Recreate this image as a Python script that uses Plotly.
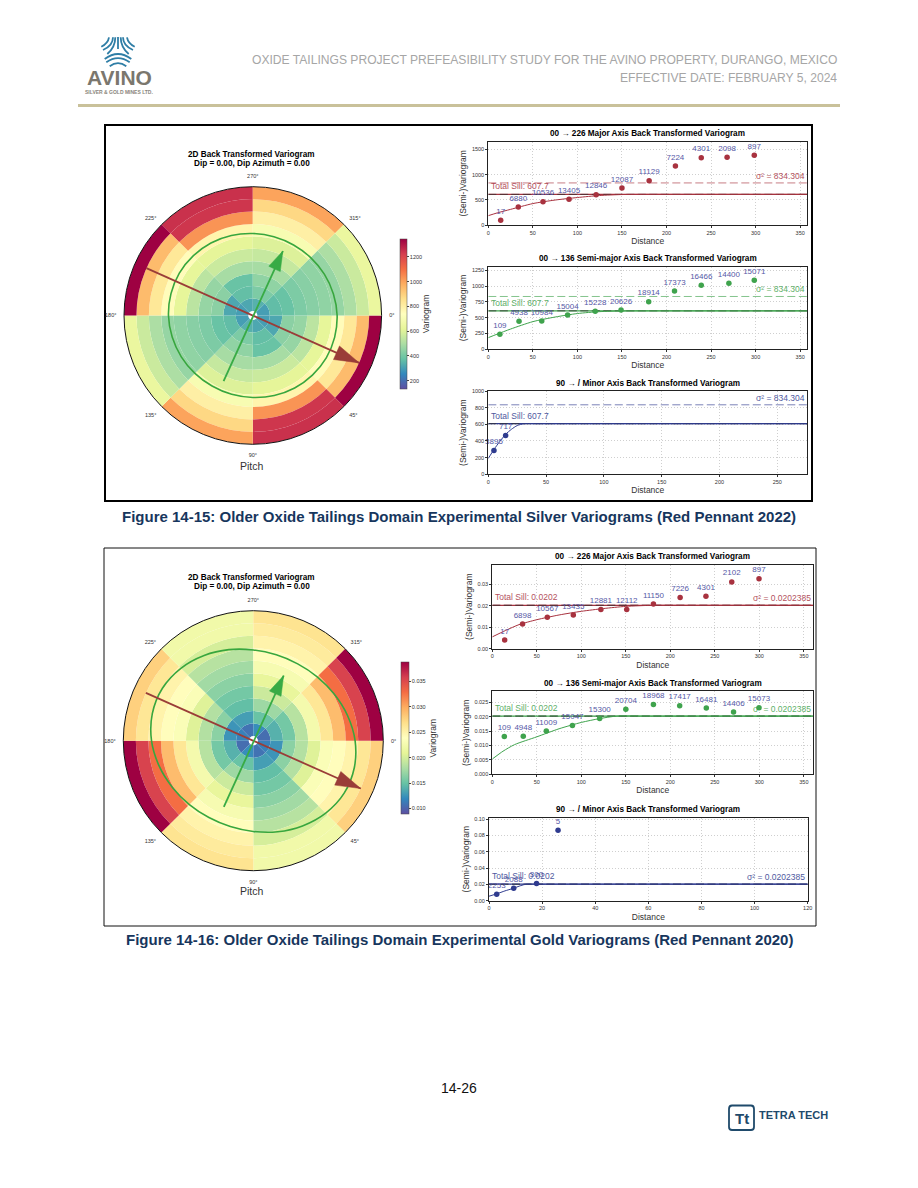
import plotly.graph_objects as go

W, H = 918, 1188
FONT = "Liberation Sans"

# ---------- polar data: radial variogram per 45-degree sector, inner ring -> outer ring ----------
SECTOR_CENTRES = [22.5, 67.5, 112.5, 157.5]
ANGLE_TICKS = [0, 45, 90, 135, 180, 225, 270, 315]

AG_S0 = [300, 320, 440, 460, 530, 625, 750, 830, 950, 1345]
AG_S1 = [320, 370, 380, 490, 560, 620, 780, 1030, 1240, 1250]
AG_S2 = [340, 415, 450, 490, 550, 600, 700, 800, 880, 1000]
AG_S3 = [300, 365, 380, 415, 435, 450, 460, 500, 560, 640]

AU_S0 = [0.0115, 0.0125, 0.0165, 0.0183, 0.0205, 0.0232, 0.0240, 0.0250, 0.0262, 0.0278]
AU_S1 = [0.0108, 0.0130, 0.0147, 0.0155, 0.0165, 0.0175, 0.0185, 0.0200, 0.0222, 0.0222]
AU_S2 = [0.0122, 0.0150, 0.0173, 0.0195, 0.0212, 0.0228, 0.0240, 0.0250, 0.0258, 0.0265]
AU_S3 = [0.0105, 0.0140, 0.0155, 0.0185, 0.0225, 0.0262, 0.0290, 0.0328, 0.0355, 0.0388]

ELL_THETA = [0, 15, 30, 45, 60, 75, 90, 105, 120, 135, 150, 165]
AG_ELL_R = [6.79, 6.82, 6.83, 6.79, 6.74, 6.67, 6.60, 6.57, 6.56, 6.59, 6.65, 6.72]
AU_ELL_R = [8.12, 8.34, 8.37, 8.17, 7.85, 7.52, 7.24, 7.09, 7.08, 7.21, 7.45, 7.78]

RED_LINE_R, RED_LINE_T = [9.38, 9.38], [204, 24]
RED_HEAD_R, RED_HEAD_T = [9.38, 7.40, 7.40, 9.38], [24, 28.6, 19.4, 24]
GRN_LINE_R, GRN_LINE_T = [5.78, 5.73], [114, 295]
GRN_HEAD_R, GRN_HEAD_T = [5.73, 4.17, 4.17, 5.73], [295, 302, 288, 295]

# ---------- variogram data ----------
AG1_D = [13.9, 33.7, 61.4, 90.6, 121, 150, 180.5, 210, 239, 268, 298.5]
AG1_V = [92, 357, 463, 509, 601, 734, 879, 1170, 1335, 1342, 1381]
AG1_N = ["17", "6880", "10536", "13405", "12846", "12087", "11129", "7224", "4301", "2098", "897"]
AG1_MD = [0, 10, 25, 50, 75, 100, 125, 150, 170, 200, 358]
AG1_MV = [185, 240, 310, 425, 495, 545, 585, 604, 607.7, 607.7, 607.7]

AG2_D = [13, 34.5, 60, 89, 120, 149, 180, 209, 239, 270, 298.5]
AG2_V = [237, 442, 447, 542, 600, 621, 753, 921, 1010, 1042, 1089]
AG2_N = ["109", "4938", "10984", "15004", "15228", "20626", "18914", "17373", "16466", "14400", "15071"]
AG2_MD = [0, 10, 25, 50, 75, 100, 125, 150, 170, 200, 358]
AG2_MV = [184, 240, 320, 437, 510, 565, 595, 606, 607.7, 607.7, 607.7]

AG3_D = [4.9, 15]
AG3_V = [287, 466]
AG3_N = ["3895", "717"]
AG3_MD = [0, 5, 10, 15, 20, 25, 31, 40, 276]
AG3_MV = [190, 300, 395, 480, 540, 585, 607.7, 607.7, 607.7]

AU1_D = [13.9, 34, 61.8, 91, 122, 151, 181, 211, 240, 269, 299.6]
AU1_V = [0.00404, 0.0115, 0.0146, 0.0157, 0.0183, 0.0183, 0.0208, 0.0238, 0.0244, 0.0311, 0.0326]
AU1_N = ["17", "6898", "10567", "13435", "12881", "12112", "11150", "7226", "4301", "2102", "897"]
AU1_MD = [0, 15, 30, 50, 75, 100, 125, 150, 180, 210, 360]
AU1_MV = [0.0055, 0.0085, 0.0112, 0.0135, 0.0157, 0.0174, 0.0187, 0.0197, 0.0202, 0.0202, 0.0202]

AU2_D = [13.5, 34.8, 60.7, 90, 120.6, 150, 181, 210.5, 240.4, 271, 299.6]
AU2_V = [0.0131, 0.0132, 0.0150, 0.0169, 0.0194, 0.0226, 0.0242, 0.0238, 0.0230, 0.0216, 0.0231]
AU2_N = ["109", "4948", "11009", "15047", "15300", "20704", "18968", "17417", "16481", "14406", "15073"]
AU2_MD = [0, 12, 25, 50, 75, 100, 120, 140, 170, 360]
AU2_MV = [0.0053, 0.0080, 0.0103, 0.0130, 0.0158, 0.0180, 0.0193, 0.0202, 0.0202, 0.0202]

AU3_D = [2.9, 9.3, 17.9, 26]
AU3_V = [0.00776, 0.0151, 0.0212, 0.0861]
AU3_N = ["2253", "2088", "300", "5"]
AU3_MD = [0, 3, 6, 9, 12, 14, 18, 120]
AU3_MV = [0.0055, 0.0085, 0.0120, 0.0150, 0.0185, 0.0202, 0.0202, 0.0202]

AG_SILL, AG_VAR = 607.7, 834.304
AU_SILL, AU_VAR = 0.0202, 0.0202385

RED, GREEN, BLUE = "#a8323f", "#3fa34d", "#2f3b8f"
LABEL = "#5558a6"
NAVY = "#17365d"


def xp(x):
    return x / W


def yp(y):
    return 1 - y / H


fig = go.Figure()
annotations, shapes = [], []


def text(x, y, s, size, color="#000000", bold=False, anchor="center", family=FONT, angle=0):
    annotations.append(dict(
        x=xp(x), y=yp(y), xref="paper", yref="paper", showarrow=False,
        text=f"<b>{s}</b>" if bold else s, xanchor=anchor, yanchor="middle",
        font=dict(size=size, color=color, family=family), textangle=angle,
        borderpad=0, borderwidth=0))


def path_px(points, color, width, fill=None):
    shapes.append(dict(
        type="path", xref="paper", yref="paper", path=points,
        line=dict(color=color, width=width), fillcolor=fill, layer="above"))


def quad(x0, y0, x1, y1, x2, y2):
    return f"M {xp(x0)} {yp(y0)} Q {xp(x1)} {yp(y1)} {xp(x2)} {yp(y2)}"


def rect(x0, y0, x1, y1, color, width, fill=None):
    shapes.append(dict(
        type="rect", xref="paper", yref="paper", x0=xp(x0), x1=xp(x1), y0=yp(y1), y1=yp(y0),
        line=dict(color=color, width=width), fillcolor=fill, layer="below"))


def polar_panel(idx, cx, cy, R, sectors, cmin, cmax, cb, ell_r, ring_width=1.0, ring_base=0.37):
    name = "polar" if idx == 1 else f"polar{idx}"
    rs, bases, thetas, vals = [], [], [], []
    for offset in (0, 180):
        for centre, series in zip(SECTOR_CENTRES, sectors):
            for i, v in enumerate(series):
                rs.append(ring_width)
                bases.append(ring_base + i * ring_width)
                thetas.append(centre + offset)
                vals.append(v)
    fig.add_trace(go.Barpolar(
        r=rs, base=bases, theta=thetas, width=[45] * len(rs), subplot=name, showlegend=False,
        marker=dict(color=vals, colorscale="Spectral_r", cmin=cmin, cmax=cmax, line=dict(width=0),
                    colorbar=cb)))
    fig.add_trace(go.Scatterpolar(
        r=ell_r + ell_r + ell_r[:1],
        theta=ELL_THETA + [t + 180 for t in ELL_THETA] + [360],
        mode="lines", subplot=name, showlegend=False,
        line=dict(color="#38a63e", width=1.6, shape="spline")))
    for lr, lt, hr, ht, col in ((RED_LINE_R, RED_LINE_T, RED_HEAD_R, RED_HEAD_T, "#9a3d38"),
                                (GRN_LINE_R, GRN_LINE_T, GRN_HEAD_R, GRN_HEAD_T, "#38ab45")):
        fig.add_trace(go.Scatterpolar(r=lr, theta=lt, mode="lines", subplot=name, showlegend=False,
                                      line=dict(color=col, width=1.8)))
        fig.add_trace(go.Scatterpolar(r=hr, theta=ht, mode="lines", fill="toself", fillcolor=col,
                                      subplot=name, showlegend=False, line=dict(color=col, width=0.5)))
    fig.update_layout({name: dict(
        domain=dict(x=[xp(cx - R), xp(cx + R)], y=[yp(cy + R), yp(cy - R)]),
        bgcolor="#ffffff",
        radialaxis=dict(visible=False, range=[0, ring_base + 10 * ring_width]),
        angularaxis=dict(direction="clockwise", rotation=0, tickmode="array",
                         tickvals=ANGLE_TICKS, ticktext=[f"{a}°" for a in ANGLE_TICKS],
                         tickfont=dict(size=5.5, color="#333333", family=FONT),
                         ticks="outside", ticklen=6, tickcolor="rgba(0,0,0,0)",
                         showgrid=False, showline=True, linecolor="#111111", linewidth=1))})


def colorbar(x, ytop, ybot, ticks, fmt, thick):
    return dict(
        x=xp(x), xanchor="left", xpad=0, ypad=0, y=yp((ytop + ybot) / 2), yanchor="middle",
        len=ybot - ytop, lenmode="pixels", thickness=thick, thicknessmode="pixels",
        outlinewidth=0.5, outlinecolor="#444444", tickvals=ticks, tickformat=fmt,
        ticks="outside", ticklen=2, tickwidth=0.5,
        tickfont=dict(size=5.5, color="#333333", family=FONT),
        title=dict(text="Variogram", side="right", font=dict(size=8.5, color="#333333", family=FONT)))


def vario_panel(idx, x0, x1, ytop, ybot, xmax, ymax, yticks, xticks, yfmt, d, v, n, md, mv,
                sill, var, color, var_label, sill_label, title, marker_size=5.5):
    xa, ya = f"x{idx}", f"y{idx}"
    fig.add_trace(go.Scatter(x=[0, xmax], y=[var, var], xaxis=xa, yaxis=ya, mode="lines", showlegend=False,
                             opacity=0.7, line=dict(color=color, width=0.9, dash="8px,3.5px")))
    fig.add_trace(go.Scatter(x=[0, xmax], y=[sill, sill], xaxis=xa, yaxis=ya, mode="lines", showlegend=False,
                             line=dict(color=color, width=1.2)))
    fig.add_trace(go.Scatter(x=[0, xmax], y=[sill, sill], xaxis=xa, yaxis=ya, mode="lines", showlegend=False,
                             line=dict(color="#333333", width=0.8, dash="8px,3.5px")))
    fig.add_trace(go.Scatter(x=md, y=mv, xaxis=xa, yaxis=ya, mode="lines", showlegend=False,
                             line=dict(color=color, width=1, shape="spline", smoothing=0.7)))
    fig.add_trace(go.Scatter(x=d, y=v, text=n, xaxis=xa, yaxis=ya, mode="markers+text", showlegend=False,
                             textposition="top center", cliponaxis=False,
                             textfont=dict(size=8, color=LABEL, family=FONT),
                             marker=dict(size=marker_size, color=color)))
    axis_common = dict(showline=True, mirror=True, linecolor="#222222", linewidth=1, showgrid=True,
                       gridcolor="#cfcfcf", griddash="1px,2px", gridwidth=0.8, zeroline=False,
                       ticks="outside", ticklen=2, tickwidth=0.6, tickcolor="#333333",
                       tickfont=dict(size=5.5, color="#333333", family=FONT))
    fig.update_layout({
        f"xaxis{idx}": dict(domain=[xp(x0), xp(x1)], anchor=ya, range=[0, xmax], tickvals=xticks,
                            title=dict(text="Distance", standoff=3, font=dict(size=8.5, color="#333333", family=FONT)),
                            **axis_common),
        f"yaxis{idx}": dict(domain=[yp(ybot), yp(ytop)], anchor=xa, range=[0, ymax], tickvals=yticks,
                            tickformat=yfmt,
                            title=dict(text="(Semi-)Variogram", standoff=3, font=dict(size=8.5, color="#333333", family=FONT)),
                            **axis_common)})
    annotations.append(dict(x=xmax * 0.005, y=sill, xref=xa, yref=ya, showarrow=False, xanchor="left", yanchor="bottom",
                            text=sill_label, font=dict(size=8.5, color=color, family=FONT), opacity=0.85, borderpad=0, yshift=2))
    annotations.append(dict(x=xmax * 0.995, y=var, xref=xa, yref=ya, showarrow=False, xanchor="right", yanchor="bottom",
                            text=var_label, font=dict(size=8.5, color=color, family=FONT), opacity=0.85, borderpad=0, yshift=1))
    text((x0 + x1) / 2, ytop - 8, title, 8.2, bold=True)


# ---------- panels ----------
polar_panel(1, 252.8, 315.5, 128.8, [AG_S0, AG_S1, AG_S2, AG_S3], 133, 1345,
            colorbar(400, 239, 389, [200, 400, 600, 800, 1000, 1200], "d", 7), AG_ELL_R)
polar_panel(2, 253.3, 740.7, 130, [AU_S0, AU_S1, AU_S2, AU_S3], 0.0089, 0.0388,
            colorbar(401, 662.3, 814, [0.010, 0.015, 0.020, 0.025, 0.030, 0.035], ".3f", 7.5), AU_ELL_R)

AX350 = [0, 50, 100, 150, 200, 250, 300, 350]
sill_ag = f"Total Sill: {AG_SILL}"
var_ag = f"σ² = {AG_VAR}"
sill_au = f"Total Sill: {AU_SILL}"
var_au = f"σ² = {AU_VAR}"

vario_panel(1, 488.3, 807.3, 141.7, 225, 358, 1652, [0, 500, 1000, 1500], AX350, "d",
            AG1_D, AG1_V, AG1_N, AG1_MD, AG1_MV, AG_SILL, AG_VAR, RED, var_ag, sill_ag,
            "00 → 226 Major Axis Back Transformed Variogram")
vario_panel(2, 488.3, 807.3, 266.7, 349.3, 358, 1305, [0, 250, 500, 750, 1000, 1250], AX350, "d",
            AG2_D, AG2_V, AG2_N, AG2_MD, AG2_MV, AG_SILL, AG_VAR, GREEN, var_ag, sill_ag,
            "00 → 136 Semi-major Axis Back Transformed Variogram")
vario_panel(3, 488.3, 807.3, 391, 474.3, 276, 1000, [0, 200, 400, 600, 800, 1000], [0, 50, 100, 150, 200, 250], "d",
            AG3_D, AG3_V, AG3_N, AG3_MD, AG3_MV, AG_SILL, AG_VAR, BLUE, var_ag, sill_ag,
            "90 → / Minor Axis Back Transformed Variogram")
vario_panel(4, 492.3, 813.3, 564.7, 648.7, 360.6, 0.0391, [0, 0.01, 0.02, 0.03], AX350, ".2f",
            AU1_D, AU1_V, AU1_N, AU1_MD, AU1_MV, AU_SILL, AU_VAR, RED, var_au, sill_au,
            "00 → 226 Major Axis Back Transformed Variogram")
vario_panel(5, 492.3, 813.3, 691.3, 774.3, 360.6, 0.0288, [0, 0.005, 0.01, 0.015, 0.02, 0.025], AX350, ".3f",
            AU2_D, AU2_V, AU2_N, AU2_MD, AU2_MV, AU_SILL, AU_VAR, GREEN, var_au, sill_au,
            "00 → 136 Semi-major Axis Back Transformed Variogram")
vario_panel(6, 489, 807.7, 817.7, 900.7, 120, 0.1016, [0, 0.02, 0.04, 0.06, 0.08, 0.10], [0, 20, 40, 60, 80, 100, 120], ".2f",
            AU3_D, AU3_V, AU3_N, AU3_MD, AU3_MV, AU_SILL, AU_VAR, BLUE, var_au, sill_au,
            "90 → / Minor Axis Back Transformed Variogram")

# ---------- polar texts ----------
text(251.7, 154, "2D Back Transformed Variogram", 8.2, bold=True)
text(252, 163.5, "Dip = 0.00, Dip Azimuth = 0.00", 8.2, bold=True)
text(252, 466, "Pitch", 10.5, color="#333333")
text(251.7, 577, "2D Back Transformed Variogram", 8.2, bold=True)
text(252, 586.5, "Dip = 0.00, Dip Azimuth = 0.00", 8.2, bold=True)
text(252, 891, "Pitch", 10.5, color="#333333")

# ---------- page furniture ----------
rect(105, 125, 812, 501, "#000000", 2)
rect(104, 548, 816, 926, "#111111", 1)
rect(78, 104, 840, 107, "#c9c19a", 0, "#c9c19a")

text(837, 60, "OXIDE TAILINGS PROJECT PREFEASIBILITY STUDY FOR THE AVINO PROPERTY, DURANGO, MEXICO", 12.1,
     color="#a6a6a6", anchor="right")
text(837, 78, "EFFECTIVE DATE: FEBRUARY 5, 2024", 12.1, color="#a6a6a6", anchor="right")
text(459, 517, "Figure 14-15: Older Oxide Tailings Domain Experimental Silver Variograms (Red Pennant 2022)", 15,
     color=NAVY, bold=True)
text(459, 940, "Figure 14-16: Older Oxide Tailings Domain Experimental Gold Variograms (Red Pennant 2020)", 15,
     color=NAVY, bold=True)
text(459, 1088, "14-26", 14, color="#111111")

# Avino logo
LOGO_BLUE = "#2f7ea6"
for (a, b, c, d, e, f) in [(109, 37.3, 108, 43.3, 101.3, 46.7), (113, 37.3, 113, 45.7, 103, 50),
                           (115.3, 37.3, 115.3, 47.3, 107.3, 54), (127, 37.3, 128, 43.3, 134.7, 46.7),
                           (123, 37.3, 123, 45.7, 133, 50), (120.7, 37.3, 120.7, 47.3, 128.7, 54),
                           (118, 37, 118, 43, 118, 49), (104.7, 59, 118, 49, 131.3, 59),
                           (106.3, 62.3, 118, 54, 129.7, 62.3), (109.7, 66.3, 118, 60, 126.3, 66.3)]:
    path_px(quad(a, b, c, d, e, f), LOGO_BLUE, 1.8)
text(119, 78, "AVINO", 21, color="#7b776e", bold=True)
text(119, 92, "SILVER &amp; GOLD MINES LTD.", 5, color="#8a867c", bold=True)

# Tetra Tech logo
shapes.append(dict(type="path", xref="paper", yref="paper", layer="above",
                   path=(f"M {xp(732)} {yp(1105.5)} L {xp(751)} {yp(1105.5)} Q {xp(754)} {yp(1105.5)} {xp(754)} {yp(1109)} "
                         f"L {xp(754)} {yp(1127)} Q {xp(754)} {yp(1130)} {xp(751)} {yp(1130)} L {xp(732)} {yp(1130)} "
                         f"Q {xp(729)} {yp(1130)} {xp(729)} {yp(1127)} L {xp(729)} {yp(1109)} Q {xp(729)} {yp(1105.5)} {xp(732)} {yp(1105.5)} Z"),
                   line=dict(color="#1f4a6b", width=1.8), fillcolor="#ffffff"))
text(741.5, 1118, "Tt", 15, color="#1f4a6b", bold=True)
text(793.5, 1115, "TETRA TECH", 11, color="#1f4a6b", bold=True)

fig.update_layout(
    width=W, height=H, autosize=False, margin=dict(l=0, r=0, t=0, b=0, pad=0, autoexpand=False),
    paper_bgcolor="#ffffff", plot_bgcolor="#ffffff", showlegend=False,
    font=dict(family=FONT, color="#333333"),
    annotations=annotations, shapes=shapes)

fig.write_html("out.html", config={"displayModeBar": False},
               post_script="document.body.style.margin='0';document.documentElement.style.overflow='hidden';")
